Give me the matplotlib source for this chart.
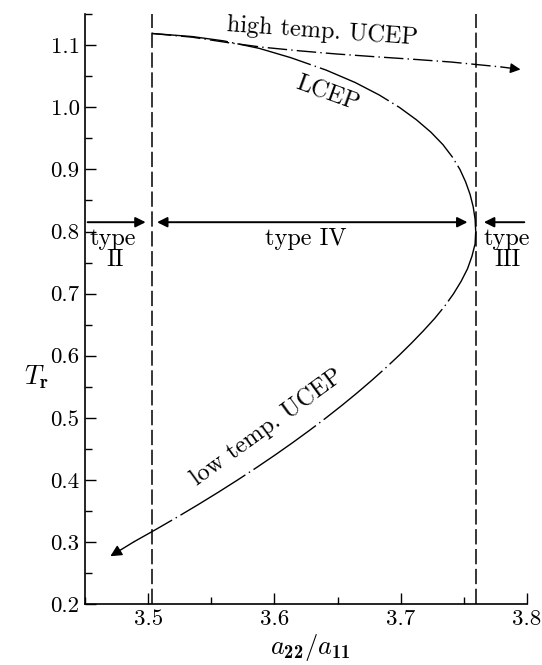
import matplotlib
matplotlib.use("Agg")
import matplotlib.pyplot as plt
from matplotlib.ticker import MultipleLocator

plt.rcParams.update({
    "font.family": "serif",
    "font.serif": ["cmr10"],
    "mathtext.fontset": "custom",
    "mathtext.rm": "cmr10",
    "mathtext.it": "cmmi10",
    "mathtext.bf": "cmb10",
    "axes.unicode_minus": False,
    "axes.formatter.use_mathtext": True,
})

# type II / type IV boundaries (vertical dashed lines)
bounds_x = [3.503, 3.7595]

# LCEP branch, from the left boundary down to the turning point
lcep_x = [3.503, 3.535, 3.560, 3.588, 3.613, 3.641, 3.664, 3.683, 3.699,
          3.7125, 3.724, 3.7335, 3.741, 3.747, 3.7515, 3.755, 3.7575,
          3.759, 3.7595]
lcep_y = [1.119, 1.114, 1.107, 1.095, 1.080, 1.060, 1.040, 1.020, 1.000,
          0.980, 0.960, 0.940, 0.920, 0.900, 0.880, 0.860, 0.840,
          0.820, 0.800]

# low temperature UCEP branch, from the turning point down to the arrow
low_x = [3.7595, 3.759, 3.7565, 3.753, 3.748, 3.742, 3.735, 3.727, 3.718,
         3.7085, 3.6985, 3.688, 3.677, 3.6655, 3.6535, 3.641, 3.628,
         3.6145, 3.6005, 3.586, 3.571, 3.5555, 3.5395, 3.523, 3.506, 3.4885]
low_y = [0.800, 0.780, 0.760, 0.740, 0.720, 0.700, 0.680, 0.660, 0.640,
         0.620, 0.600, 0.580, 0.560, 0.540, 0.520, 0.500, 0.480,
         0.460, 0.440, 0.420, 0.400, 0.380, 0.360, 0.340, 0.320, 0.300]
low_tip = (3.470, 0.277)

# high temperature UCEP branch
high_x = [3.503, 3.535, 3.564, 3.590, 3.620, 3.649, 3.680, 3.713, 3.740,
          3.765, 3.780]
high_y = [1.119, 1.113, 1.104, 1.097, 1.091, 1.086, 1.0815, 1.077, 1.073,
          1.068, 1.065]
high_tip = (3.795, 1.061)

# region arrows at Tr ~ 0.815
arrow_y = 0.815
type2_x = [3.452, 3.498]
type4_x = [3.507, 3.753]
type3_x = [3.798, 3.766]

fig = plt.figure(figsize=(5.42, 6.65), dpi=100)
ax = fig.add_axes([0.157, 0.0917, 0.815, 0.887])

for bx in bounds_x:
    ax.axvline(bx, color="k", lw=1.1, ls=(0, (10, 3)))

curve_ls = (0, (55, 3, 1, 3))
ax.plot(lcep_x, lcep_y, color="k", lw=1.0, ls=curve_ls)
ax.plot(low_x, low_y, color="k", lw=1.0, ls=curve_ls)
ax.annotate("", xy=low_tip, xytext=(low_x[-1], low_y[-1]),
            arrowprops=dict(arrowstyle="-|>", color="k", lw=1.0,
                            mutation_scale=17, shrinkA=0, shrinkB=0))
ax.plot(high_x, high_y, color="k", lw=1.0, ls=(0, (14, 3, 1, 3)))
ax.annotate("", xy=high_tip, xytext=(high_x[-1], high_y[-1]),
            arrowprops=dict(arrowstyle="-|>", color="k", lw=1.0,
                            mutation_scale=15, shrinkA=0, shrinkB=0))

head = dict(color="k", lw=1.4, mutation_scale=15, shrinkA=0, shrinkB=0)
ax.annotate("", xy=(type2_x[1], arrow_y), xytext=(type2_x[0], arrow_y),
            arrowprops=dict(arrowstyle="-|>", **head))
ax.annotate("", xy=(type4_x[1], arrow_y), xytext=(type4_x[0], arrow_y),
            arrowprops=dict(arrowstyle="<|-|>", **head))
ax.annotate("", xy=(type3_x[1], arrow_y), xytext=(type3_x[0], arrow_y),
            arrowprops=dict(arrowstyle="-|>", **head))

fs = 17.5
ax.text(3.472, 0.788, "type", ha="center", va="center", fontsize=fs)
ax.text(3.474, 0.755, "II", ha="center", va="center", fontsize=fs)
ax.text(3.625, 0.788, "type IV", ha="center", va="center", fontsize=fs)
ax.text(3.784, 0.788, "type", ha="center", va="center", fontsize=fs)
ax.text(3.785, 0.755, "III", ha="center", va="center", fontsize=fs)
ax.text(3.638, 1.122, "high temp. UCEP", ha="center", va="center",
        fontsize=fs, rotation=-4, rotation_mode="anchor")
ax.text(3.642, 1.022, "LCEP", ha="center", va="center", fontsize=fs,
        rotation=-20, rotation_mode="anchor")
ax.text(3.594, 0.485, "low temp. UCEP", ha="center", va="center",
        fontsize=fs, rotation=36, rotation_mode="anchor")

ax.set_xlim(3.45, 3.8)
ax.set_ylim(0.2, 1.1501)
ax.xaxis.set_major_locator(MultipleLocator(0.1))
ax.xaxis.set_minor_locator(MultipleLocator(0.05))
ax.yaxis.set_major_locator(MultipleLocator(0.1))
ax.yaxis.set_minor_locator(MultipleLocator(0.05))
ax.xaxis.set_major_formatter(plt.FuncFormatter(lambda v, p: f"{v:.1f}"))
ax.yaxis.set_major_formatter(plt.FuncFormatter(lambda v, p: f"{v:.1f}"))

for side in ("top", "right"):
    ax.spines[side].set_visible(False)
for side in ("left", "bottom"):
    ax.spines[side].set_linewidth(1.2)
ax.tick_params(which="both", direction="in", width=1.0, labelsize=16.5,
               pad=4)
ax.tick_params(which="major", length=8)
ax.tick_params(which="minor", length=5)

# axis labels placed directly on the figure
fig.text(0.572, 0.027, r"$a_{\mathbf{22}}/a_{\mathbf{11}}$", fontsize=19,
         ha="center", va="center")
fig.text(0.068, 0.432, r"$T_{\mathbf{r}}$", fontsize=19,
         ha="center", va="center")

fig.savefig("out.png", dpi=100)
